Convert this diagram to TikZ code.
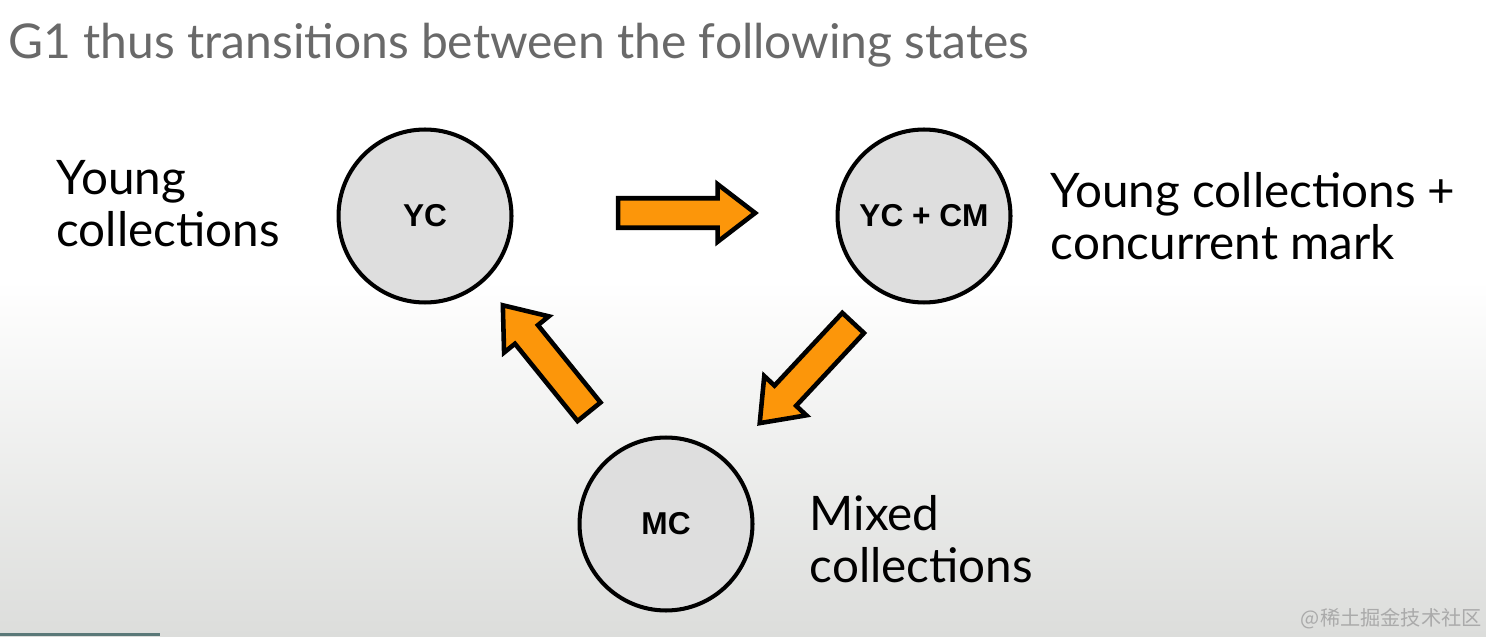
\documentclass[tikz,border=0pt]{standalone}
\usepackage{fontspec}
\setmainfont{Lato}
\setsansfont{Liberation Sans}
\newfontfamily\cjkfont{Noto Sans CJK SC}
\usetikzlibrary{positioning, shapes.arrows}
\definecolor{flowcolor}{RGB}{252,150,10}
\definecolor{statefill}{RGB}{222,222,222}
\definecolor{titlegray}{RGB}{105,105,105}
\definecolor{bggray}{RGB}{220,221,219}
\definecolor{markgray}{RGB}{170,170,170}
\definecolor{bargray}{RGB}{90,120,120}

\begin{document}
\begin{tikzpicture}[
  x=0.02cm, y=0.02cm,
  node distance=1cm,
  state/.style={circle, draw=black, fill=statefill, line width=2.3pt, minimum size=3.46cm, inner sep=0pt, font=\sffamily\bfseries\fontsize{18}{20}\selectfont},
  caption/.style={align=left, inner sep=0pt, font=\fontsize{27.1}{29.5}\selectfont},
  flow/.style={single arrow, draw=black, fill=flowcolor, line width=2.6pt, minimum height=2.74cm, single arrow head extend=0.28cm, single arrow tip angle=75, inner sep=0.25cm}
]
% background
\fill[white] (0,0) rectangle (1486,636);
\shade[top color=white, bottom color=bggray] (0,0) rectangle (1486,356);
\useasboundingbox (0,0) rectangle (1486,636);
\fill[bargray] (0,0) rectangle (160,3);

% title
\node[anchor=west, inner sep=0pt, text=titlegray, font=\fontsize{27.3}{30}\selectfont] (title) at (8,591) {G1 thus transitions between the following states};

% states
\node[state] (yc) at (425,420) {YC};
\node[state] (yccm) at (924,420) {YC + CM};
\node[state] (mc) at (666,112) {MC};

% captions
\node[caption, left=1.13cm of yc, yshift=0.24cm] (yclabel) {Young\\collections};
\node[caption, right=0.76cm of yccm] (yccmlabel) {Young collections +\\concurrent mark};
\node[caption, right=1.1cm of mc, yshift=-0.3cm] (mclabel) {Mixed\\collections};

% transitions
\node[flow] (yctoyccm) at (677,423) {};
\node[flow, rotate=227] (yccmtomc) at (813,270) {};
\node[flow, rotate=129] (mctoyc) at (552,270) {};

% watermark
\node[anchor=east, inner sep=0pt, text=markgray, font=\cjkfont\fontsize{11.5}{13}\selectfont] (mark) at (1482,17) {@稀土掘金技术社区};
\end{tikzpicture}
\end{document}
